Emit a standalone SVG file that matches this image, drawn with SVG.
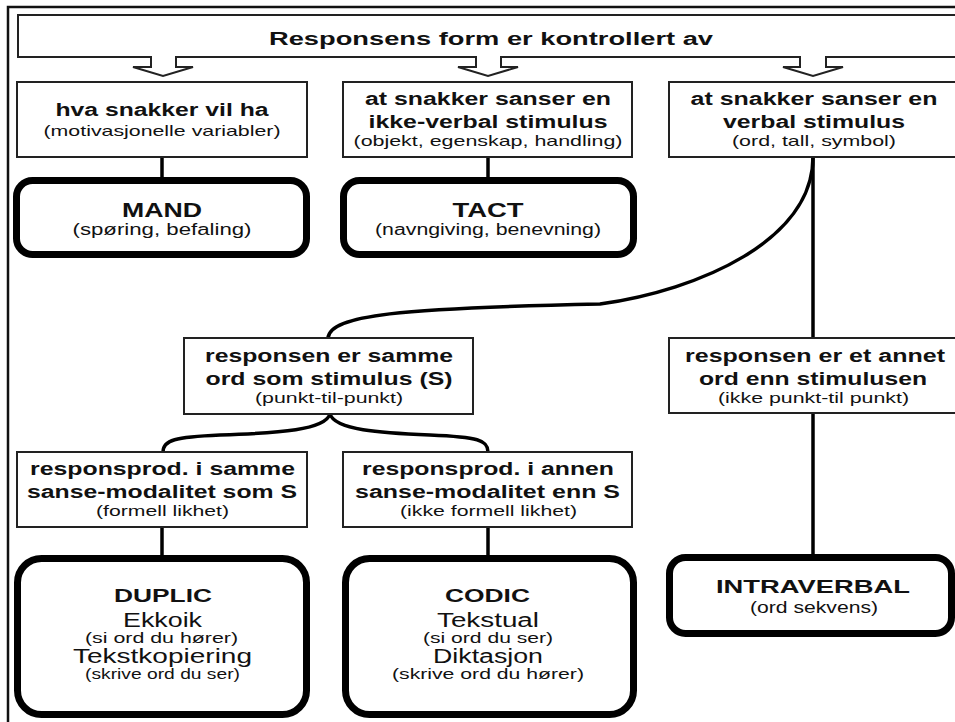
<svg xmlns="http://www.w3.org/2000/svg" width="955" height="722" viewBox="0 0 955 722">
<style>
text{font-family:"Liberation Sans",Arial,sans-serif;fill:#111;text-anchor:middle}
.h{font-weight:bold;font-size:18px}
.s{font-size:15px}
.t{font-weight:bold;font-size:21px}
.r{font-size:20px}
.p{font-size:14px}
.box{fill:#fff;stroke:#222;stroke-width:2}
.rb{fill:#fff;stroke:#000;stroke-width:7}
.ln{fill:none;stroke:#000;stroke-width:3.5}
</style>
<rect width="955" height="722" fill="#fff"/>
<path d="M8,722 L8,7 L955,7" fill="none" stroke="#111" stroke-width="2.5"/>
<g id="banner">
<path class="box" d="M18,15 L965,15 L965,57 L826,57 L826,67 L843,67 L813,76 L783,67 L800,67 L800,57 L501,57 L501,67 L518,67 L488,76 L458,67 L476,67 L476,57 L176,57 L176,67 L193,67 L163,76 L133,67 L151,67 L151,57 L18,57 Z"/>
<text class="h" x="491" y="45" textLength="444" lengthAdjust="spacingAndGlyphs">Responsens form er kontrollert av</text>
</g>
<g id="connectors">
<line class="ln" x1="162" y1="157" x2="162" y2="178" stroke-width="4"/>
<line class="ln" x1="488" y1="157" x2="488" y2="178" stroke-width="4"/>
<line class="ln" x1="813" y1="157" x2="813" y2="338"/>
<line class="ln" x1="813" y1="413" x2="813" y2="555"/>
<path class="ln" d="M813,157 C813,240 700,290 600,304 C400,308 330,315 328,338"/>
<path class="ln" d="M330,414 C325,430 280,433 220,435 C175,437 163,440 163,452"/>
<path class="ln" d="M330,414 C335,430 380,433 430,435 C478,437 488,440 488,452"/>
<line class="ln" x1="162" y1="527" x2="162" y2="556" stroke-width="4"/>
<line class="ln" x1="488" y1="527" x2="488" y2="556" stroke-width="4"/>
</g>
<g id="nodeA">
<rect class="box" x="17" y="82" width="290" height="75"/>
<text class="h" x="162" y="116" textLength="213" lengthAdjust="spacingAndGlyphs">hva snakker vil ha</text>
<text class="s" x="162" y="136" textLength="237" lengthAdjust="spacingAndGlyphs">(motivasjonelle variabler)</text>
</g>
<g id="nodeB">
<rect class="box" x="343" y="82" width="289" height="75"/>
<text class="h" x="488" y="105" textLength="246" lengthAdjust="spacingAndGlyphs">at snakker sanser en</text>
<text class="h" x="488" y="128" textLength="239" lengthAdjust="spacingAndGlyphs">ikke-verbal stimulus</text>
<text class="s" x="488" y="146" textLength="269" lengthAdjust="spacingAndGlyphs">(objekt, egenskap, handling)</text>
</g>
<g id="nodeC">
<rect class="box" x="669" y="82" width="300" height="75"/>
<text class="h" x="814" y="105" textLength="247" lengthAdjust="spacingAndGlyphs">at snakker sanser en</text>
<text class="h" x="814" y="128" textLength="182" lengthAdjust="spacingAndGlyphs">verbal stimulus</text>
<text class="s" x="814" y="146" textLength="164" lengthAdjust="spacingAndGlyphs">(ord, tall, symbol)</text>
</g>
<g id="mand">
<rect class="rb" x="16.5" y="180.5" width="290" height="74" rx="16"/>
<text class="t" x="162" y="217" textLength="80" lengthAdjust="spacingAndGlyphs">MAND</text>
<text class="s" x="162" y="235" font-size="16" style="font-size:16px" textLength="179" lengthAdjust="spacingAndGlyphs">(spøring, befaling)</text>
</g>
<g id="tact">
<rect class="rb" x="343.5" y="180.5" width="290" height="74" rx="16"/>
<text class="t" x="488" y="217" textLength="71" lengthAdjust="spacingAndGlyphs">TACT</text>
<text class="s" x="488" y="235" style="font-size:16px" textLength="226" lengthAdjust="spacingAndGlyphs">(navngiving, benevning)</text>
</g>
<g id="nodeD">
<rect class="box" x="184" y="338" width="289" height="76"/>
<text class="h" x="329" y="362" textLength="248" lengthAdjust="spacingAndGlyphs">responsen er samme</text>
<text class="h" x="329" y="385" textLength="247" lengthAdjust="spacingAndGlyphs">ord som stimulus (S)</text>
<text class="s" x="329" y="403" textLength="148" lengthAdjust="spacingAndGlyphs">(punkt-til-punkt)</text>
</g>
<g id="nodeE">
<rect class="box" x="669" y="338" width="300" height="75"/>
<text class="h" x="815" y="362" textLength="260" lengthAdjust="spacingAndGlyphs">responsen er et annet</text>
<text class="h" x="813" y="385" textLength="228" lengthAdjust="spacingAndGlyphs">ord enn stimulusen</text>
<text class="s" x="813.5" y="403" textLength="191" lengthAdjust="spacingAndGlyphs">(ikke punkt-til punkt)</text>
</g>
<g id="nodeF">
<rect class="box" x="17" y="452" width="290" height="75"/>
<text class="h" x="162.5" y="475" textLength="265" lengthAdjust="spacingAndGlyphs">responsprod. i samme</text>
<text class="h" x="162" y="498" textLength="270" lengthAdjust="spacingAndGlyphs">sanse-modalitet som S</text>
<text class="s" x="162.5" y="516" textLength="133" lengthAdjust="spacingAndGlyphs">(formell likhet)</text>
</g>
<g id="nodeG">
<rect class="box" x="343" y="452" width="289" height="75"/>
<text class="h" x="488" y="475" textLength="252" lengthAdjust="spacingAndGlyphs">responsprod. i annen</text>
<text class="h" x="487.5" y="498" textLength="265" lengthAdjust="spacingAndGlyphs">sanse-modalitet enn S</text>
<text class="s" x="488.5" y="516" textLength="177" lengthAdjust="spacingAndGlyphs">(ikke formell likhet)</text>
</g>
<g id="duplic">
<rect class="rb" x="17.5" y="558.5" width="289" height="156" rx="24"/>
<text class="h" x="163" y="602" textLength="98" lengthAdjust="spacingAndGlyphs">DUPLIC</text>
<text class="r" x="162.5" y="627" textLength="79" lengthAdjust="spacingAndGlyphs">Ekkoik</text>
<text class="p" x="161.5" y="643" textLength="153" lengthAdjust="spacingAndGlyphs">(si ord du hører)</text>
<text class="r" x="162.5" y="663" textLength="179" lengthAdjust="spacingAndGlyphs">Tekstkopiering</text>
<text class="p" x="162.5" y="679" textLength="155" lengthAdjust="spacingAndGlyphs">(skrive ord du ser)</text>
</g>
<g id="codic">
<rect class="rb" x="345.5" y="558.5" width="288" height="156" rx="24"/>
<text class="h" x="487.5" y="602" textLength="85" lengthAdjust="spacingAndGlyphs">CODIC</text>
<text class="r" x="488" y="627" textLength="102" lengthAdjust="spacingAndGlyphs">Tekstual</text>
<text class="p" x="488" y="643" textLength="130" lengthAdjust="spacingAndGlyphs">(si ord du ser)</text>
<text class="r" x="488" y="663" textLength="110" lengthAdjust="spacingAndGlyphs">Diktasjon</text>
<text class="p" x="488" y="679" textLength="192" lengthAdjust="spacingAndGlyphs">(skrive ord du hører)</text>
</g>
<g id="intraverbal">
<rect class="rb" x="669.5" y="557.5" width="282" height="76" rx="16"/>
<text class="h" x="813" y="593" style="font-size:19px" textLength="194" lengthAdjust="spacingAndGlyphs">INTRAVERBAL</text>
<text class="s" x="814" y="613" style="font-size:16px" textLength="128" lengthAdjust="spacingAndGlyphs">(ord sekvens)</text>
</g>
</svg>
